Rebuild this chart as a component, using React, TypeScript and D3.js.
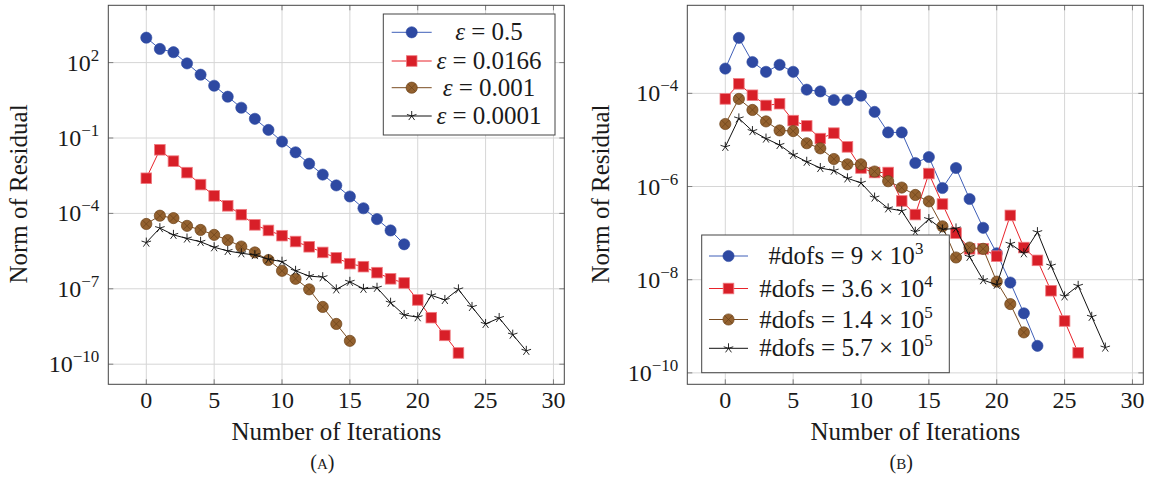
import React from 'react';
import * as d3 from 'd3';

// iterations 0..n for every series
const epsLabels = ['0.5', '0.0166', '0.001', '0.0001'];
const dofsLabels = [
  ['9', '3'],
  ['3.6', '4'],
  ['1.4', '5'],
  ['5.7', '5'],
];

// panel (A): residual per iteration for each epsilon
const epsBlue = [9.8e2, 3.5e2, 2.6e2, 9.3e1, 3.3e1, 1.2e1, 4.4, 1.6, 5.8e-1, 2.1e-1, 7.2e-2, 2.7e-2, 9.5e-3, 3.5e-3, 1.3e-3, 4.7e-4, 1.6e-4, 5.9e-5, 2.1e-5, 5.9e-6];
const epsRed = [2.5e-3, 3.4e-2, 1.2e-2, 4.2e-3, 1.4e-3, 5.0e-4, 2.0e-4, 8.9e-5, 3.5e-5, 2.1e-5, 1.3e-5, 7.6e-6, 4.7e-6, 2.8e-6, 1.7e-6, 1.0e-6, 7.6e-7, 4.4e-7, 2.5e-7, 1.7e-7, 3.6e-8, 7.1e-9, 1.4e-9, 2.8e-10];
const epsBrown = [3.8e-5, 8.1e-5, 6.5e-5, 3.2e-5, 2.2e-5, 1.4e-5, 8.7e-6, 4.8e-6, 2.8e-6, 1.4e-6, 5.2e-7, 2.5e-7, 9.5e-8, 1.9e-8, 4.0e-9, 8.5e-10];
const epsBlack = [6.9e-6, 2.6e-5, 1.4e-5, 1.0e-5, 7.4e-6, 4.5e-6, 3.2e-6, 2.6e-6, 2.2e-6, 1.5e-6, 1.2e-6, 5.2e-7, 3.2e-7, 2.9e-7, 9.5e-8, 1.9e-7, 1.0e-7, 1.1e-7, 2.8e-8, 9.1e-9, 7.4e-9, 5.5e-8, 3.6e-8, 9.5e-8, 1.9e-8, 4.0e-9, 6.9e-9, 1.5e-9, 3.4e-10];

// panel (B): residual per iteration for each mesh size
const dofsBlue = [3.4e-4, 1.55e-3, 4.7e-4, 2.9e-4, 4.1e-4, 2.9e-4, 1.2e-4, 1.1e-4, 7.2e-5, 7.2e-5, 8.9e-5, 4.0e-5, 1.45e-5, 1.45e-5, 3.2e-6, 4.3e-6, 9.3e-7, 2.5e-6, 5.4e-7, 1.3e-7, 3.7e-8, 8.7e-9, 1.9e-9, 3.8e-10];
const dofsRed = [7.6e-5, 1.6e-4, 9.1e-5, 5.5e-5, 6.0e-5, 2.6e-5, 2.0e-5, 1.07e-5, 1.4e-5, 7.1e-6, 2.5e-6, 2.0e-6, 2.0e-6, 4.9e-7, 2.5e-7, 1.9e-6, 4.2e-7, 1.0e-7, 4.6e-8, 4.6e-8, 3.2e-8, 2.4e-7, 4.9e-8, 2.6e-8, 5.8e-9, 1.3e-9, 2.7e-10];
const dofsBrown = [2.2e-5, 7.6e-5, 4.4e-5, 2.5e-5, 1.6e-5, 1.55e-5, 8.5e-6, 6.6e-6, 3.9e-6, 3.0e-6, 3.0e-6, 2.1e-6, 1.3e-6, 9.5e-7, 6.6e-7, 4.8e-7, 1.4e-7, 3.0e-8, 4.9e-8, 4.6e-8, 9.1e-9, 3.0e-9, 7.4e-10];
const dofsBlack = [7.1e-6, 2.9e-5, 1.55e-5, 1.07e-5, 7.8e-6, 4.8e-6, 3.4e-6, 2.5e-6, 2.2e-6, 1.5e-6, 1.2e-6, 5.8e-7, 3.4e-7, 3.0e-7, 1.07e-7, 2.0e-7, 1.2e-7, 1.26e-7, 3.1e-8, 9.8e-9, 7.8e-9, 5.9e-8, 3.7e-8, 1.05e-7, 2.0e-8, 4.4e-9, 7.4e-9, 1.6e-9, 3.5e-10];

const xTicks = [0, 5, 10, 15, 20, 25, 30];
const yTicksA = [-10, -7, -4, -1, 2];
const yTicksB = [-10, -8, -6, -4];

const FONT = { fontFamily: '"Liberation Serif", "Times New Roman", serif' };
const INK = '#1a1a1a';
const styles = [
  { line: '#3f5fb8', fill: '#2e49a2', stroke: '#2e49a2', mark: 'circle' },
  { line: '#e8232b', fill: '#d81f28', stroke: '#f07a80', mark: 'square' },
  { line: '#7a4d22', fill: '#93612f', stroke: '#6b4218', mark: 'otimes' },
  { line: '#111111', fill: 'none', stroke: '#111111', mark: 'star' },
];

const Marker = ({ type, x, y, st }) => {
  if (type === 'circle') return <circle cx={x} cy={y} r={5.6} fill={st.fill} stroke={st.stroke} strokeWidth={0.6} />;
  if (type === 'square') return <rect x={x - 5.3} y={y - 5.3} width={10.6} height={10.6} fill={st.fill} stroke={st.stroke} strokeWidth={0.8} />;
  if (type === 'otimes') {
    const d = 3.9;
    return (
      <g>
        <circle cx={x} cy={y} r={5.6} fill={st.fill} stroke={st.stroke} strokeWidth={0.7} />
        <path d={`M${x - d},${y - d}L${x + d},${y + d}M${x - d},${y + d}L${x + d},${y - d}`} stroke={st.stroke} strokeWidth={0.7} />
      </g>
    );
  }
  const arms = d3.range(5).map((k) => {
    const a = (-90 + 72 * k) * Math.PI / 180;
    return `M${x},${y}L${x + 5 * Math.cos(a)},${y + 5 * Math.sin(a)}`;
  }).join('');
  return <path d={arms} stroke={st.stroke} strokeWidth={0.9} fill="none" />;
};

const Pow = ({ x, y, base, exp, anchor }) => (
  <text x={x} y={y} textAnchor={anchor} style={FONT} fontSize={24} fill={INK}>
    <tspan>{base}</tspan>
    <tspan dy={-10} fontSize={17}>{exp}</tspan>
  </text>
);

const Panel = ({ left, series, yDomain, yTicks, legend, caption, labelX }) => {
  const top = 5.3, bottom = 384.3, right = left + 456;
  const x = d3.scaleLinear().domain([-2.8, 30.8]).range([left, right]);
  const y = d3.scaleLog().domain(yDomain).range([bottom, top]);
  const line = d3.line<number>().x((_, i) => x(i)).y((d) => y(d));
  return (
    <g>
      {xTicks.map((t) => (
        <g key={'x' + t}>
          <line x1={x(t)} x2={x(t)} y1={top} y2={bottom} stroke="#d6d6d6" />
          <line x1={x(t)} x2={x(t)} y1={bottom} y2={bottom - 5} stroke="#808080" />
          <line x1={x(t)} x2={x(t)} y1={top} y2={top + 5} stroke="#808080" />
          <text x={x(t)} y={408} textAnchor="middle" style={FONT} fontSize={24} fill={INK}>{t}</text>
        </g>
      ))}
      {yTicks.map((e) => {
        const yy = y(Math.pow(10, e));
        return (
          <g key={'y' + e}>
            <line x1={left} x2={right} y1={yy} y2={yy} stroke="#d6d6d6" />
            <line x1={left} x2={left + 5} y1={yy} y2={yy} stroke="#808080" />
            <line x1={right} x2={right - 5} y1={yy} y2={yy} stroke="#808080" />
            <Pow x={left - 9} y={yy + 8} base="10" exp={e < 0 ? '\u2212' + -e : String(e)} anchor="end" />
          </g>
        );
      })}
      {series.map((s, k) => (
        <g key={'s' + k}>
          <path d={line(s)} fill="none" stroke={styles[k].line} strokeWidth={1} />
          {s.map((v, i) => <Marker key={i} type={styles[k].mark} x={x(i)} y={y(v)} st={styles[k]} />)}
        </g>
      ))}
      <rect x={left} y={top} width={right - left} height={bottom - top} fill="none" stroke="#444" strokeWidth={1} />
      {legend}
      <text x={labelX} y={194} transform={`rotate(-90 ${labelX} 194)`} textAnchor="middle" style={FONT} fontSize={25} fill={INK}>Norm of Residual</text>
      <text x={(left + right) / 2} y={440} textAnchor="middle" style={FONT} fontSize={25} fill={INK}>Number of Iterations</text>
      <text x={(left + right) / 2 - 14} y={469} textAnchor="middle" style={FONT} fontSize={20} fill={INK}>
        (<tspan fontSize={15}>{caption}</tspan>)
      </text>
    </g>
  );
};

const LegendBox = ({ box, rows, lineX, children }) => (
  <g>
    <rect x={box[0]} y={box[1]} width={box[2]} height={box[3]} fill="#fff" stroke="#444" strokeWidth={1} />
    {rows.map((ry, k) => (
      <g key={k}>
        <line x1={lineX[0]} x2={lineX[1]} y1={ry} y2={ry} stroke={styles[k].line} strokeWidth={1} />
        <Marker type={styles[k].mark} x={(lineX[0] + lineX[1]) / 2} y={ry} st={styles[k]} />
      </g>
    ))}
    {children}
  </g>
);

export default function App() {
  const rowsA = [32.3, 61, 87.7, 116];
  const rowsB = [256, 288.5, 319.5, 348.3];
  const legendA = (
    <LegendBox box={[383.3, 14, 171.7, 121]} rows={rowsA} lineX={[391.7, 431.7]}>
      {epsLabels.map((l, k) => (
        <text key={k} x={489} y={rowsA[k] + 8} textAnchor="middle" style={FONT} fontSize={25} fill={INK}>
          <tspan fontStyle="italic">ε</tspan> = {l}
        </text>
      ))}
    </LegendBox>
  );
  const legendB = (
    <LegendBox box={[701.7, 235, 247.6, 137.7]} rows={rowsB} lineX={[709, 748]}>
      {dofsLabels.map((l, k) => (
        <text key={k} x={846} y={rowsB[k] + 8} textAnchor="middle" style={FONT} fontSize={25} fill={INK}>
          #dofs = {l[0]} × 10<tspan dy={-10} fontSize={17}>{l[1]}</tspan>
        </text>
      ))}
    </LegendBox>
  );
  return (
    <svg width={1150} height={484} style={{ position: 'absolute', left: 0, top: 0, background: '#fff' }}>
      <Panel left={108.3} series={[epsBlue, epsRed, epsBrown, epsBlack]} yDomain={[Math.pow(10, -10.8), Math.pow(10, 4.28)]}
        yTicks={yTicksA} legend={legendA} caption="A" labelX={27} />
      <Panel left={687.3} series={[dofsBlue, dofsRed, dofsBrown, dofsBlack]} yDomain={[Math.pow(10, -10.245), Math.pow(10, -2.11)]}
        yTicks={yTicksB} legend={legendB} caption="B" labelX={609} />
    </svg>
  );
}
